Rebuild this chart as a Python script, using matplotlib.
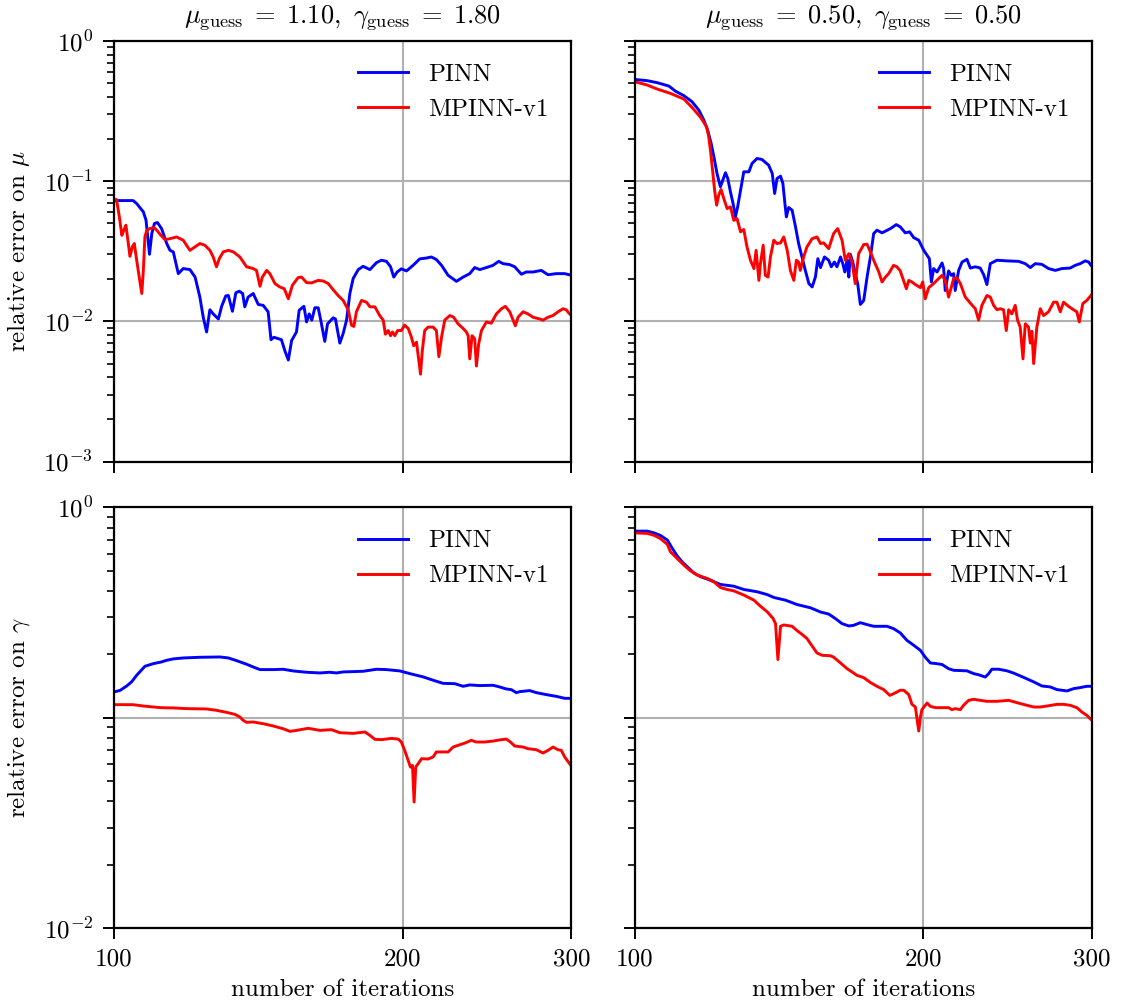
import numpy as np
import matplotlib.pyplot as plt
from matplotlib.ticker import NullLocator, FixedLocator, FixedFormatter

plt.rcParams['font.family'] = 'serif'
plt.rcParams['font.serif'] = ['cmr10']
plt.rcParams['mathtext.fontset'] = 'cm'
plt.rcParams['axes.formatter.use_mathtext'] = True
plt.rcParams['axes.unicode_minus'] = False

# --- guess mu=1.10, gamma=1.80 : error on mu ---
it_mu_pinn_a = [100, 104.7, 105.6, 107.3, 108.0, 108.9, 109.5, 110.2, 111.0, 112.1, 113.5, 114.4, 115.3,
                116.7, 118.1, 120.0, 121.5, 122.9, 123.9, 124.9, 125.9, 126.9, 128.5, 129.5, 130.8, 131.6,
                132.9, 134.0, 135.1, 136.2, 136.9, 138.0, 139.7, 141.4, 143.1, 144.8, 145.8, 146.8, 149.5,
                150.7, 152.0, 153.2, 155.0, 156.0, 157.8, 158.8, 159.8, 160.8, 162.0, 163.3, 164.3, 165.9,
                167.0, 169.3, 170.2, 172.0, 173.4, 174.8, 176.2, 177.6, 179.8, 181.9, 184.9, 187.8, 190.1,
                192.4, 194.3, 195.8, 197.4, 199.4, 201.9, 205.1, 208.4, 211.8, 214.3, 216.9, 219.6, 223.1,
                227.6, 231.3, 235.0, 237.8, 240.7, 244.6, 248.5, 251.9, 254.6, 258.7, 261.8, 266.0, 269.2,
                273.6, 279.1, 283.6, 289.3, 295.2, 300]
err_mu_pinn_a = [0.0727, 0.0727, 0.0692, 0.0604, 0.0526, 0.0301, 0.0423, 0.0499, 0.0507, 0.0459, 0.0359,
                 0.0321, 0.0313, 0.0219, 0.0238, 0.0234, 0.0207, 0.0149, 0.0107, 0.0084, 0.0121, 0.0113,
                 0.0104, 0.0128, 0.0152, 0.0153, 0.0118, 0.0160, 0.0164, 0.0158, 0.0127, 0.0149, 0.0158,
                 0.0132, 0.0130, 0.0117, 0.0074, 0.0077, 0.0074, 0.0062, 0.0053, 0.0073, 0.0084, 0.0120,
                 0.0128, 0.0099, 0.0113, 0.0102, 0.0125, 0.0125, 0.0102, 0.0072, 0.0096, 0.0106, 0.0104,
                 0.0070, 0.0082, 0.0102, 0.0158, 0.0202, 0.0234, 0.0247, 0.0234, 0.0262, 0.0273, 0.0268,
                 0.0245, 0.0207, 0.0225, 0.0237, 0.0229, 0.0251, 0.0279, 0.0283, 0.0288, 0.0276, 0.0251,
                 0.0213, 0.0193, 0.0207, 0.0219, 0.0242, 0.0234, 0.0242, 0.0251, 0.0268, 0.0258, 0.0254,
                 0.0245, 0.0217, 0.0225, 0.0225, 0.0231, 0.0215, 0.0219, 0.0219, 0.0213]

it_mu_mpinn_a = [100, 100.6, 101.3, 101.9, 102.4, 102.9, 103.5, 103.9, 104.5, 105.0, 105.6, 106.3, 106.9,
                 107.3, 107.7, 108.2, 109.0, 110.1, 110.8, 111.7, 113.0, 114.4, 116.2, 118.1, 119.2, 120.0,
                 121.5, 122.9, 124.4, 125.9, 126.9, 127.9, 128.8, 130.0, 131.6, 133.2, 135.3, 137.5, 139.7,
                 140.8, 142.0, 142.8, 144.3, 145.4, 147.2, 148.9, 150.5, 152.0, 153.5, 155.6, 156.9, 158.8,
                 160.7, 163.3, 165.3, 167.3, 169.3, 171.3, 173.4, 175.5, 176.9, 177.9, 179.0, 181.2, 183.4,
                 184.9, 187.1, 189.3, 190.9, 191.9, 193.2, 194.3, 195.2, 196.3, 197.6, 199.4, 201.0, 202.7,
                 204.3, 205.4, 206.8, 207.9, 208.8, 209.7, 210.9, 212.6, 215.2, 216.9, 218.2, 219.6, 221.3,
                 224.0, 226.1, 228.5, 231.3, 233.1, 234.1, 235.0, 236.3, 237.8, 238.8, 240.1, 241.7, 244.6,
                 247.5, 250.5, 253.6, 256.0, 258.7, 260.8, 262.2, 263.9, 267.1, 270.3, 273.6, 278.0, 280.2,
                 283.6, 287.0, 290.5, 294.0, 296.3, 298.0, 300]
err_mu_mpinn_a = [0.0740, 0.0740, 0.0556, 0.0411, 0.0447, 0.0485, 0.0359, 0.0291, 0.0340, 0.0359, 0.0273,
                  0.0202, 0.0158, 0.0231, 0.0400, 0.0447, 0.0459, 0.0467, 0.0447, 0.0418, 0.0383, 0.0389,
                  0.0400, 0.0379, 0.0344, 0.0321, 0.0340, 0.0359, 0.0349, 0.0321, 0.0288, 0.0245, 0.0281,
                  0.0313, 0.0321, 0.0313, 0.0288, 0.0245, 0.0238, 0.0231, 0.0178, 0.0207, 0.0231, 0.0219,
                  0.0186, 0.0176, 0.0171, 0.0145, 0.0181, 0.0205, 0.0207, 0.0189, 0.0188, 0.0196, 0.0194,
                  0.0186, 0.0168, 0.0153, 0.0141, 0.0121, 0.0094, 0.0092, 0.0117, 0.0141, 0.0137, 0.0127,
                  0.0127, 0.0110, 0.0102, 0.0081, 0.0086, 0.0079, 0.0084, 0.0079, 0.0086, 0.0086, 0.0094,
                  0.0089, 0.0077, 0.0067, 0.0071, 0.0053, 0.0042, 0.0062, 0.0086, 0.0091, 0.0091, 0.0086,
                  0.0056, 0.0077, 0.0102, 0.0110, 0.0107, 0.0096, 0.0089, 0.0084, 0.0079, 0.0054, 0.0079,
                  0.0075, 0.0048, 0.0069, 0.0086, 0.0099, 0.0097, 0.0113, 0.0123, 0.0128, 0.0117, 0.0102,
                  0.0093, 0.0107, 0.0117, 0.0113, 0.0107, 0.0104, 0.0102, 0.0107, 0.0110, 0.0117, 0.0123,
                  0.0121, 0.0115, 0.0110]

# --- guess mu=0.50, gamma=0.50 : error on mu ---
it_mu_pinn_b = [100, 103.1, 105.6, 108.6, 110.3, 112.6, 114.8, 116.7, 118.1, 119.2, 120.2, 121.0, 121.9,
                122.9, 123.6, 124.4, 125.1, 125.9, 126.7, 127.4, 128.1, 129.0, 130.0, 131.6, 132.6, 134.2,
                135.8, 138.0, 139.2, 140.0, 140.8, 142.0, 142.8, 143.5, 144.0, 144.8, 146.0, 147.2, 148.3,
                149.5, 150.7, 152.0, 153.2, 154.4, 155.3, 156.3, 157.8, 159.4, 160.4, 161.6, 162.6, 164.0,
                164.9, 165.7, 166.6, 167.3, 167.9, 168.9, 169.9, 170.9, 172.0, 173.4, 174.8, 176.2, 177.6,
                179.0, 181.2, 184.9, 187.5, 189.3, 191.6, 193.6, 195.5, 197.9, 200.3, 203.0, 204.0, 205.1,
                206.8, 209.3, 210.1, 210.9, 212.6, 214.0, 215.2, 216.0, 217.8, 219.6, 222.2, 224.0, 226.7,
                229.4, 231.3, 233.1, 235.0, 238.8, 244.6, 251.5, 255.6, 258.7, 261.8, 266.0, 270.3, 274.7,
                279.1, 284.7, 288.2, 291.6, 295.2, 297.6, 300]
err_mu_pinn_b = [0.532, 0.521, 0.504, 0.477, 0.439, 0.407, 0.369, 0.321, 0.273, 0.231, 0.186, 0.149,
                 0.1135, 0.0912, 0.1016, 0.1148, 0.1045, 0.0839, 0.0692, 0.0556, 0.0656, 0.0863, 0.1166,
                 0.1166, 0.1337, 0.1452, 0.1428, 0.1301, 0.1135, 0.0817, 0.1045, 0.1086, 0.0963, 0.0692,
                 0.0556, 0.0649, 0.0621, 0.0472, 0.0359, 0.0288, 0.0231, 0.0186, 0.0176, 0.0207, 0.0280,
                 0.0242, 0.0288, 0.0273, 0.0245, 0.0265, 0.0245, 0.0288, 0.0258, 0.0225, 0.0273, 0.0207,
                 0.0301, 0.0265, 0.0219, 0.0186, 0.0132, 0.0141, 0.0207, 0.0288, 0.0423, 0.0447, 0.0428,
                 0.0459, 0.0490, 0.0472, 0.0428, 0.0435, 0.0396, 0.0379, 0.0321, 0.0280, 0.0191, 0.0238,
                 0.0225, 0.0261, 0.0238, 0.0166, 0.0229, 0.0213, 0.0219, 0.0166, 0.0231, 0.0265, 0.0277,
                 0.0240, 0.0245, 0.0240, 0.0215, 0.0183, 0.0258, 0.0273, 0.0270, 0.0268, 0.0258, 0.0242,
                 0.0258, 0.0255, 0.0238, 0.0231, 0.0238, 0.0240, 0.0251, 0.0258, 0.0270, 0.0265, 0.0246]

it_mu_mpinn_b = [100, 103.1, 105.6, 109.0, 112.6, 114.8, 117.2, 118.9, 119.5, 120.0, 120.6, 121.2, 121.8,
                 122.4, 123.1, 123.9, 124.9, 125.9, 126.9, 127.9, 129.0, 130.0, 131.0, 132.1, 133.2, 133.9,
                 134.8, 135.3, 136.2, 136.9, 137.8, 138.6, 139.7, 140.8, 142.0, 143.1, 144.3, 145.4, 146.6,
                 147.5, 148.3, 148.9, 150.1, 151.3, 153.2, 155.0, 156.3, 157.5, 159.4, 161.3, 162.9, 164.6,
                 165.9, 167.3, 168.6, 169.9, 171.3, 173.4, 174.8, 176.2, 177.6, 179.8, 181.2, 182.7, 184.1,
                 186.3, 187.8, 189.3, 192.1, 193.2, 194.7, 196.3, 198.7, 199.8, 201.0, 202.7, 205.1, 207.6,
                 209.3, 210.9, 212.6, 213.8, 215.2, 216.9, 218.7, 221.3, 224.0, 226.7, 228.5, 230.3, 233.1,
                 235.0, 236.9, 238.8, 240.7, 242.6, 244.2, 245.6, 247.5, 249.5, 250.9, 252.5, 254.2, 255.6,
                 257.6, 258.7, 259.7, 260.8, 262.8, 265.0, 267.1, 270.3, 273.6, 275.8, 278.0, 280.2, 283.6,
                 287.0, 289.3, 291.0, 293.5, 296.3, 300]
err_mu_mpinn_b = [0.513, 0.485, 0.454, 0.423, 0.385, 0.336, 0.285, 0.244, 0.207, 0.166, 0.120, 0.0863,
                  0.0674, 0.0794, 0.0872, 0.0752, 0.0638, 0.0656, 0.0526, 0.0541, 0.0435, 0.0452, 0.0340,
                  0.0273, 0.0238, 0.0321, 0.0196, 0.0258, 0.0349, 0.0213, 0.0207, 0.0288, 0.0379, 0.0359,
                  0.0363, 0.0400, 0.0321, 0.0231, 0.0196, 0.0273, 0.0265, 0.0231, 0.0288, 0.0340, 0.0389,
                  0.0400, 0.0359, 0.0363, 0.0330, 0.0423, 0.0459, 0.0379, 0.0273, 0.0304, 0.0265, 0.0186,
                  0.0304, 0.0353, 0.0355, 0.0313, 0.0273, 0.0225, 0.0191, 0.0207, 0.0219, 0.0251, 0.0245,
                  0.0229, 0.0171, 0.0196, 0.0191, 0.0183, 0.0174, 0.0191, 0.0145, 0.0174, 0.0186, 0.0202,
                  0.0213, 0.0196, 0.0149, 0.0171, 0.0202, 0.0205, 0.0186, 0.0149, 0.0135, 0.0123, 0.0102,
                  0.0130, 0.0153, 0.0149, 0.0130, 0.0121, 0.0123, 0.0121, 0.0086, 0.0121, 0.0113, 0.0130,
                  0.0102, 0.0091, 0.0054, 0.0096, 0.0091, 0.0070, 0.0085, 0.0050, 0.0091, 0.0123, 0.0110,
                  0.0117, 0.0137, 0.0137, 0.0117, 0.0137, 0.0128, 0.0121, 0.0117, 0.0099, 0.0134, 0.0141,
                  0.0156]

# --- guess mu=1.10, gamma=1.80 : error on gamma ---
it_ga_pinn_a = [100, 101.5, 103.1, 104.3, 105.6, 107.7, 109.9, 112.1, 113.5, 115.3, 118.1, 122.9, 129.0,
                131.6, 134.2, 137.5, 139.7, 142.0, 146.6, 150.1, 153.8, 158.8, 164.0, 167.9, 170.6, 173.4,
                181.9, 187.8, 192.4, 198.7, 203.5, 210.1, 215.2, 220.4, 226.7, 231.3, 235.0, 240.7, 248.5,
                252.5, 256.6, 259.7, 262.8, 265.0, 271.4, 275.8, 282.5, 289.3, 295.2, 300]
err_ga_pinn_a = [0.1325, 0.1349, 0.1415, 0.1479, 0.1591, 0.1755, 0.1807, 0.1841, 0.1875, 0.1903, 0.1923,
                 0.1937, 0.1944, 0.1923, 0.1868, 0.1795, 0.1742, 0.1693, 0.1693, 0.1699, 0.1668, 0.1644,
                 0.1632, 0.1644, 0.1632, 0.1650, 0.1662, 0.1699, 0.1693, 0.1668, 0.1620, 0.1563, 0.1507,
                 0.1456, 0.1451, 0.1410, 0.1431, 0.1421, 0.1426, 0.1400, 0.1369, 0.1359, 0.1315, 0.1330,
                 0.1345, 0.1315, 0.1287, 0.1263, 0.1236, 0.1236]

it_ga_mpinn_a = [100, 104.7, 107.3, 111.7, 115.3, 119.1, 124.9, 127.9, 131.0, 133.7, 135.3, 136.4, 137.5,
                 139.7, 143.1, 146.6, 150.1, 152.6, 155.0, 159.4, 164.0, 168.6, 172.0, 177.6, 182.7, 184.9,
                 187.1, 190.1, 194.7, 197.9, 199.4, 201.0, 202.7, 203.8, 204.8, 205.6, 206.4, 207.6, 209.3,
                 212.6, 215.2, 216.9, 219.6, 223.1, 225.8, 229.4, 232.2, 235.9, 238.8, 243.6, 248.5, 253.6,
                 256.6, 259.1, 261.8, 267.1, 270.3, 275.8, 280.2, 283.6, 287.0, 290.5, 292.8, 295.2, 300]
err_ga_mpinn_a = [0.1153, 0.1153, 0.1136, 0.1116, 0.1112, 0.1104, 0.1100, 0.1084, 0.1060, 0.1037, 0.1007,
                  0.0971, 0.0950, 0.0954, 0.0936, 0.0913, 0.0886, 0.0861, 0.0870, 0.0890, 0.0870, 0.0877,
                  0.0848, 0.0842, 0.0855, 0.0824, 0.0789, 0.0786, 0.0797, 0.0791, 0.0766, 0.0699, 0.0626,
                  0.0582, 0.0593, 0.0397, 0.0582, 0.0604, 0.0638, 0.0636, 0.0650, 0.0687, 0.0687, 0.0687,
                  0.0725, 0.0743, 0.0757, 0.0780, 0.0766, 0.0766, 0.0774, 0.0786, 0.0791, 0.0766, 0.0733,
                  0.0725, 0.0712, 0.0704, 0.0679, 0.0699, 0.0725, 0.0704, 0.0699, 0.0650, 0.0588]

# --- guess mu=0.50, gamma=0.50 : error on gamma ---
it_ga_pinn_b = [100, 103.1, 104.7, 106.4, 108.2, 109.5, 110.8, 112.1, 113.5, 115.3, 117.2, 119.1, 121.0,
                122.9, 126.9, 130.0, 134.2, 137.5, 139.7, 143.7, 147.8, 152.6, 156.3, 159.4, 162.0, 164.6,
                167.3, 169.3, 172.0, 174.8, 177.6, 183.4, 186.3, 189.3, 192.4, 195.5, 198.7, 201.0, 203.5,
                206.0, 209.3, 212.6, 215.2, 222.2, 225.8, 228.5, 232.2, 234.1, 235.9, 239.7, 244.6, 248.5,
                252.5, 256.6, 260.8, 266.0, 271.4, 275.8, 282.5, 287.0, 291.6, 296.3, 300]
err_ga_pinn_b = [0.771, 0.771, 0.757, 0.736, 0.699, 0.638, 0.587, 0.551, 0.522, 0.488, 0.468, 0.456, 0.443,
                 0.430, 0.422, 0.407, 0.397, 0.385, 0.373, 0.362, 0.345, 0.333, 0.318, 0.311, 0.296, 0.280,
                 0.273, 0.275, 0.283, 0.277, 0.272, 0.272, 0.265, 0.253, 0.233, 0.221, 0.209, 0.194, 0.182,
                 0.181, 0.179, 0.171, 0.168, 0.167, 0.162, 0.160, 0.156, 0.162, 0.170, 0.170, 0.167, 0.163,
                 0.158, 0.153, 0.148, 0.1415, 0.140, 0.136, 0.134, 0.1374, 0.139, 0.141, 0.141]

it_ga_mpinn_b = [100, 103.1, 104.7, 106.4, 108.2, 109.0, 110.8, 112.6, 114.4, 116.2, 119.1, 121.0, 122.9,
                 124.9, 126.9, 130.0, 133.2, 135.3, 137.5, 139.5, 140.3, 141.1, 142.0, 143.1, 146.0, 147.8,
                 149.5, 151.3, 153.2, 155.0, 156.9, 160.1, 161.3, 164.0, 166.6, 168.6, 170.6, 173.4, 176.2,
                 179.0, 181.9, 184.6, 186.3, 189.3, 190.9, 193.2, 194.7, 196.3, 197.9, 198.7, 199.4, 201.0,
                 201.9, 203.5, 206.0, 209.3, 212.6, 214.3, 216.0, 218.7, 220.4, 223.1, 225.8, 229.4, 233.1,
                 238.8, 245.6, 250.5, 256.6, 260.8, 265.0, 269.2, 275.8, 280.2, 284.7, 289.3, 292.8, 296.3, 300]
err_ga_mpinn_b = [0.757, 0.752, 0.738, 0.711, 0.667, 0.615, 0.571, 0.531, 0.499, 0.477, 0.459, 0.443, 0.416,
                  0.407, 0.401, 0.383, 0.362, 0.339, 0.319, 0.296, 0.280, 0.189, 0.272, 0.276, 0.272, 0.259,
                  0.249, 0.238, 0.219, 0.203, 0.198, 0.197, 0.194, 0.182, 0.171, 0.165, 0.159, 0.155, 0.147,
                  0.141, 0.136, 0.1277, 0.130, 0.135, 0.135, 0.1288, 0.1157, 0.1124, 0.0864, 0.1007, 0.1092,
                  0.1145, 0.1174, 0.1132, 0.1116, 0.1116, 0.1116, 0.1092, 0.1104, 0.1092, 0.1145, 0.1209,
                  0.1223, 0.1209, 0.1196, 0.1196, 0.1209, 0.1179, 0.1145, 0.1124, 0.1124, 0.1136, 0.1157,
                  0.1157, 0.1145, 0.1116, 0.1064, 0.1026, 0.0971]

titles = [r'$\mu_{\rm guess} \;=\; 1.10,\ \gamma_{\rm guess} \;=\; 1.80$',
          r'$\mu_{\rm guess} \;=\; 0.50,\ \gamma_{\rm guess} \;=\; 0.50$']
ylabels = [r'relative error on $\mu$', r'relative error on $\gamma$']
xticks = [100, 200, 300]

fig, axes = plt.subplots(2, 2, figsize=(11.21, 10.07), dpi=100)
fig.subplots_adjust(left=0.1017, right=0.9741, top=0.9593, bottom=0.0785, wspace=0.138, hspace=0.109)

data = [[(it_mu_pinn_a, err_mu_pinn_a, it_mu_mpinn_a, err_mu_mpinn_a),
         (it_mu_pinn_b, err_mu_pinn_b, it_mu_mpinn_b, err_mu_mpinn_b)],
        [(it_ga_pinn_a, err_ga_pinn_a, it_ga_mpinn_a, err_ga_mpinn_a),
         (it_ga_pinn_b, err_ga_pinn_b, it_ga_mpinn_b, err_ga_mpinn_b)]]

fs = 18
for r in range(2):
    for c in range(2):
        ax = axes[r, c]
        x1, y1, x2, y2 = data[r][c]
        ax.plot(x1, y1, color='blue', lw=2.1, label='PINN')
        ax.plot(x2, y2, color='red', lw=2.1, label='MPINN-v1')
        ax.set_xscale('log')
        ax.set_yscale('log')
        ax.set_xlim(100, 300)
        ax.xaxis.set_major_locator(FixedLocator(xticks))
        ax.xaxis.set_minor_locator(NullLocator())
        if r == 0:
            ax.set_ylim(1e-3, 1)
            ax.set_yticks([1e-3, 1e-2, 1e-1, 1])
            labs = [r'$10^{-3}$', r'$10^{-2}$', r'$10^{-1}$', r'$10^{0}$']
        else:
            ax.set_ylim(1e-2, 1)
            ax.set_yticks([1e-2, 1e-1, 1])
            labs = [r'$10^{-2}$', '', r'$10^{0}$']
        if c == 0:
            ax.set_yticklabels(labs)
            ax.set_ylabel(ylabels[r], fontsize=fs, labelpad=8)
        else:
            ax.set_yticklabels([''] * len(labs))
        if r == 1:
            ax.xaxis.set_major_formatter(FixedFormatter([str(t) for t in xticks]))
            ax.set_xlabel('number of iterations', fontsize=fs, labelpad=6)
        else:
            ax.xaxis.set_major_formatter(FixedFormatter([''] * 3))
            ax.set_title(titles[c], fontsize=fs + 1, pad=13)
        ax.grid(True, which='major', color='#b0b0b0', lw=1.5)
        ax.tick_params(which='major', length=8, width=1.4, labelsize=fs, pad=7)
        ax.tick_params(which='minor', length=5, width=1.2)
        for s in ax.spines.values():
            s.set_linewidth(1.6)
        ax.legend(loc='upper right', frameon=False, fontsize=fs, handlelength=2.0)

plt.savefig('out.png', dpi=100)
